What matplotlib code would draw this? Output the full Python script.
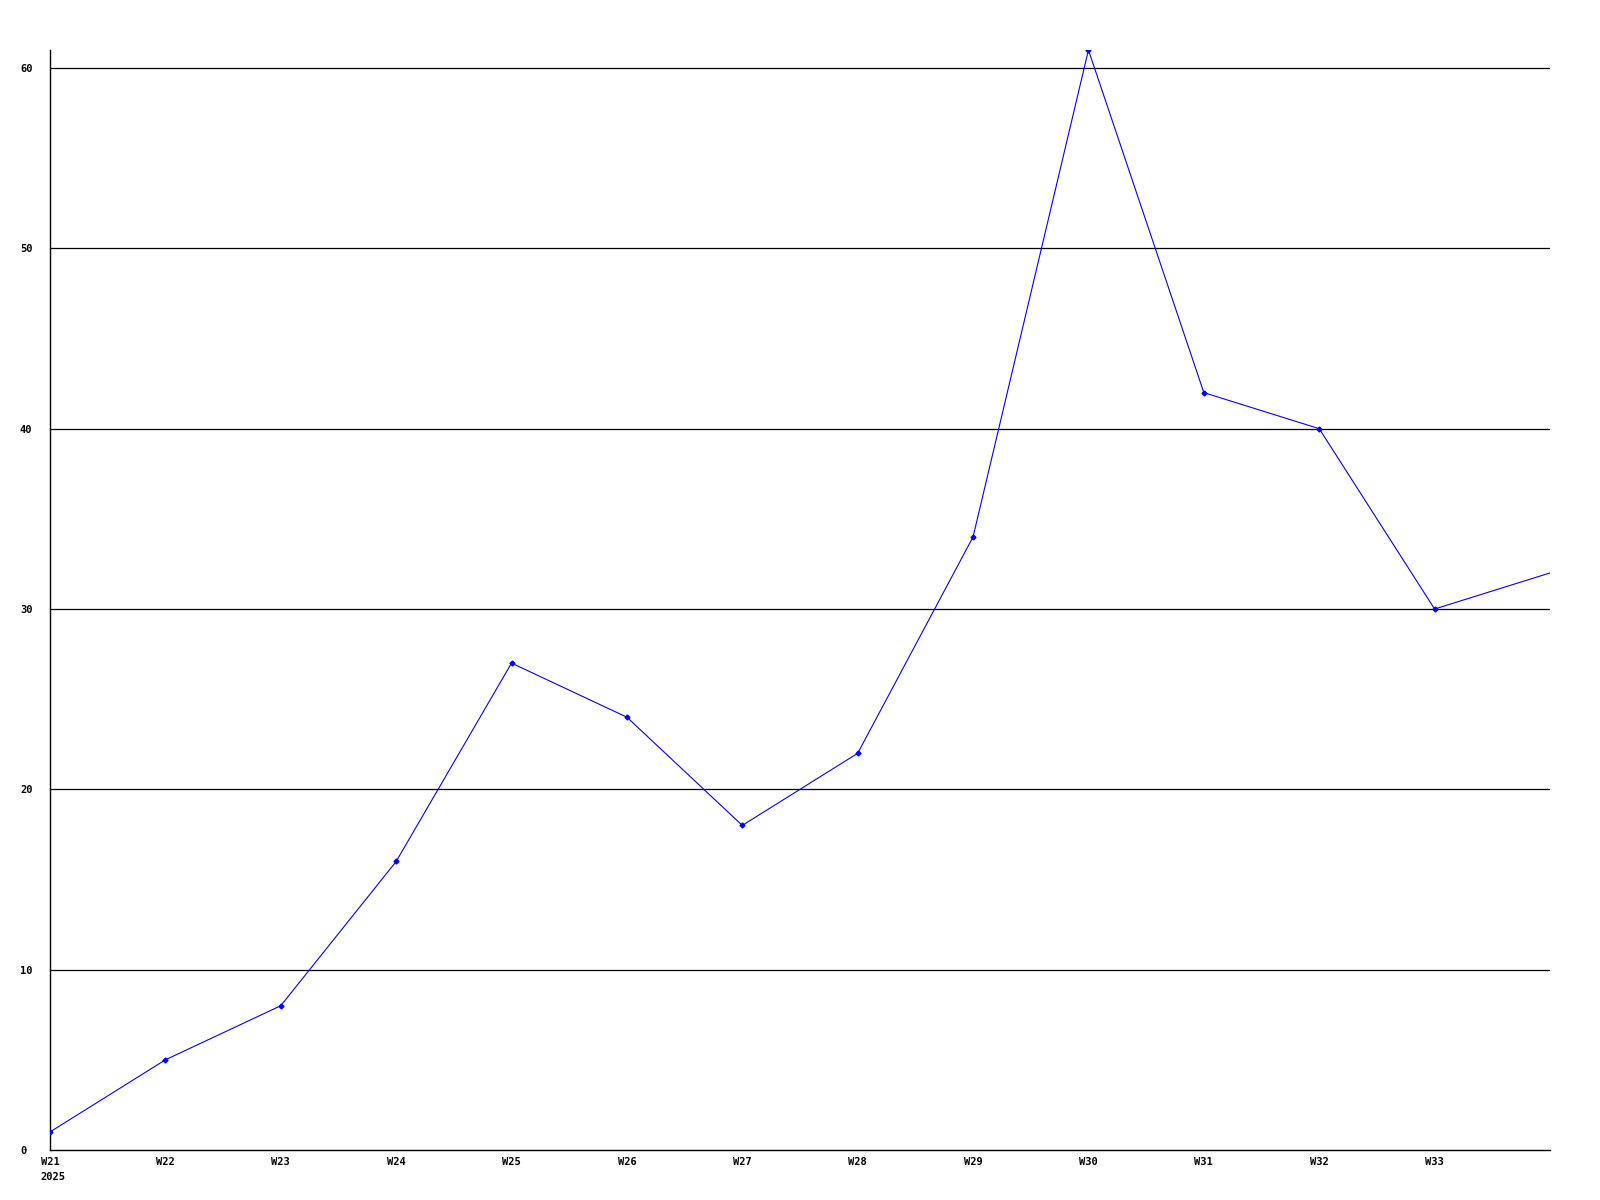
import matplotlib.pyplot as plt
from matplotlib import transforms

# weekly values
weeks = ["W21", "W22", "W23", "W24", "W25", "W26", "W27",
         "W28", "W29", "W30", "W31", "W32", "W33", "W34"]
values = [1, 5, 8, 16, 27, 24, 18, 22, 34, 61, 42, 40, 30, 32]
tick_labels = weeks[:-1]
year_label = "2025"
y_ticks = [0, 10, 20, 30, 40, 50, 60]

font = dict(family="DejaVu Sans Mono", weight="bold", size=7.5)

fig = plt.figure(figsize=(16, 12), dpi=100)
ax = fig.add_axes([50 / 1600, 50 / 1200, 1500 / 1600, 1100 / 1200])

x = list(range(len(values)))
# last week runs off the right edge, so no marker there
ax.plot(x, values, color="#0000ff", lw=0.8, marker="D", ms=2.5,
        markevery=list(range(len(values) - 1)), zorder=3)

ax.set_xlim(0, len(values) - 1)
ax.set_ylim(0, 61)

for y in y_ticks[1:]:
    ax.axhline(y, color="black", lw=0.9, zorder=1)

ax.set_xticks(range(len(tick_labels)))
ax.set_xticklabels(tick_labels, **font)
ax.set_yticks(y_ticks)
ax.set_yticklabels([str(v) for v in y_ticks], **font)
for lbl in ax.get_yticklabels():
    lbl.set_horizontalalignment("left")
ax.tick_params(axis="y", length=0, pad=21.6)
ax.tick_params(axis="x", length=0, pad=5)

# year under the first week label
trans = transforms.offset_copy(ax.transData, fig=fig, x=-10, y=-27, units="dots")
ax.text(0, 0, year_label, transform=trans, ha="left", va="center", **font)

for side in ["top", "right"]:
    ax.spines[side].set_visible(False)
ax.spines["left"].set_color("black")
ax.spines["bottom"].set_color("black")
ax.spines["left"].set_linewidth(1)
ax.spines["bottom"].set_linewidth(1)

fig.savefig("out.png", dpi=100)
